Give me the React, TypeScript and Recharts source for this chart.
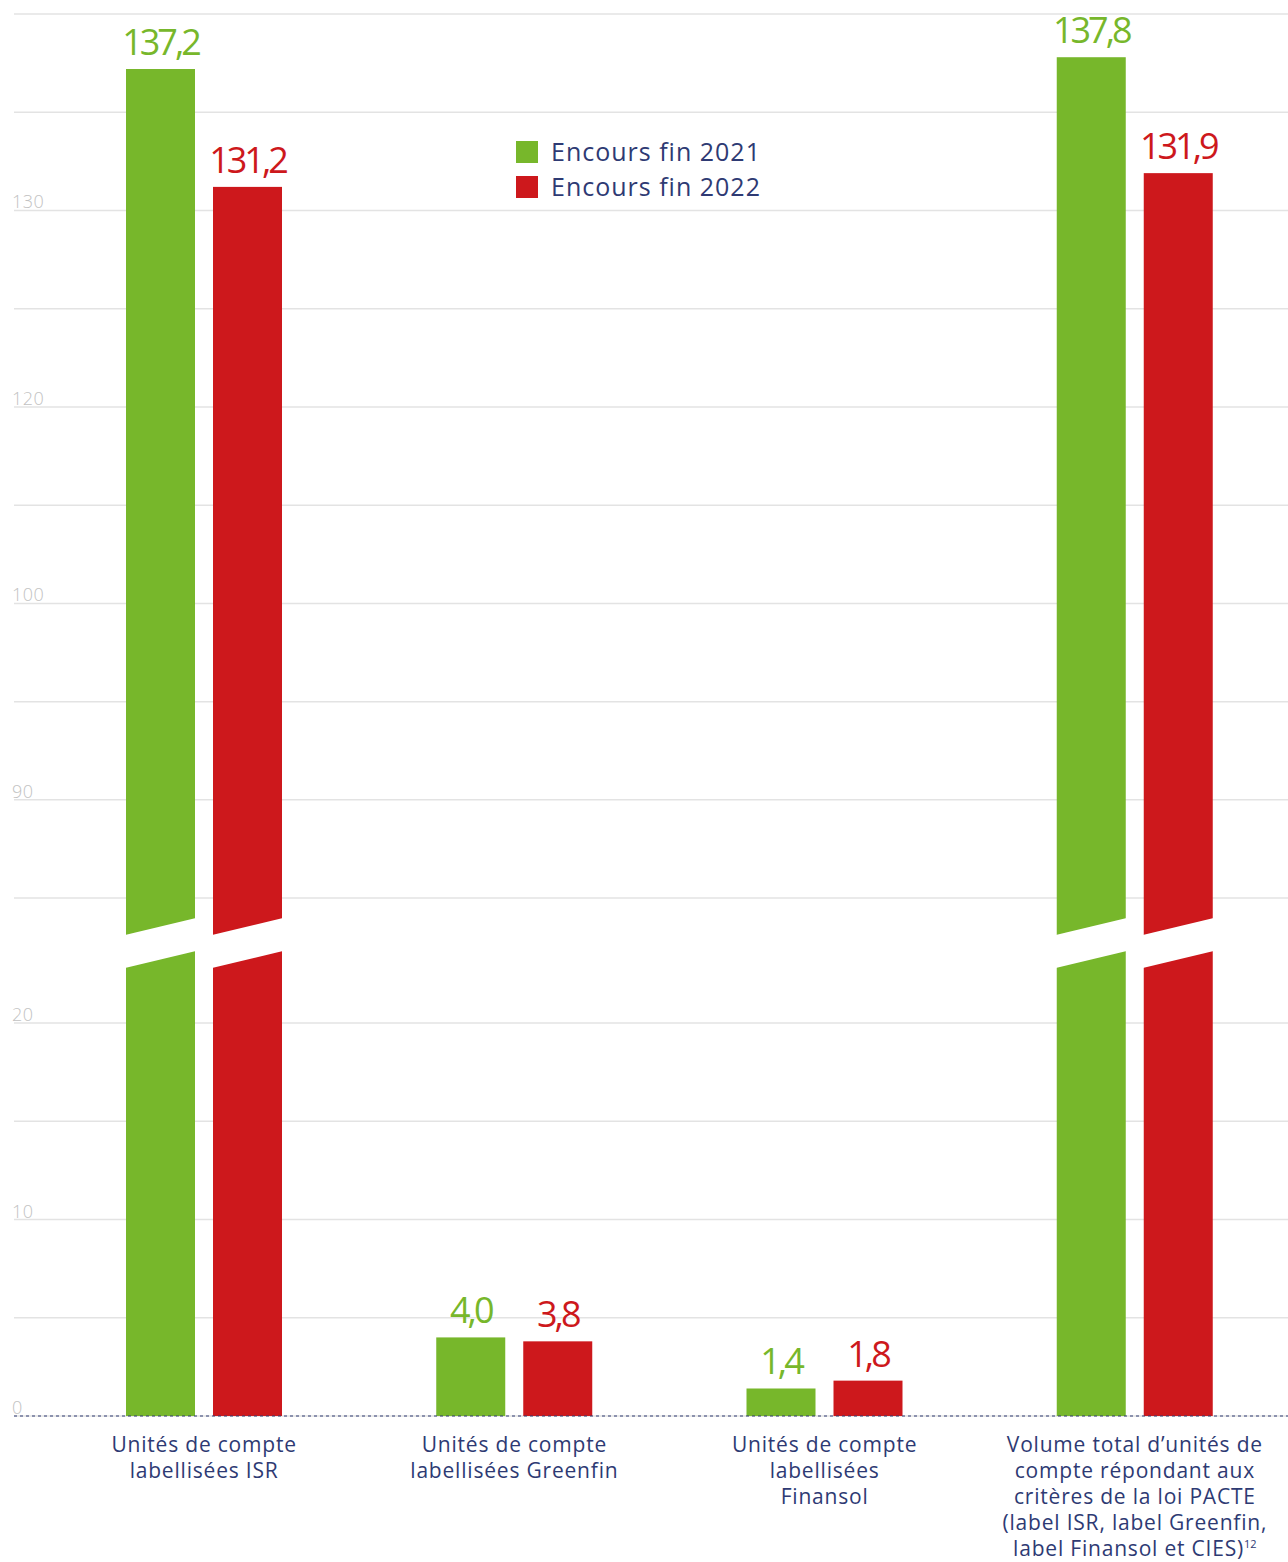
import React from 'react';
import { BarChart, Bar, XAxis, YAxis, CartesianGrid, LabelList, Legend, ReferenceLine } from 'recharts';

// ---- data ----
const CATEGORIES = [
  "Unités de compte\nlabellisées ISR",
  "Unités de compte\nlabellisées Greenfin",
  "Unités de compte\nlabellisées\nFinansol",
  "Volume total d’unités de\ncompte répondant aux\ncritères de la loi PACTE\n(label ISR, label Greenfin,\nlabel Finansol et CIES)",
];
const CATEGORY_NOTES = ["", "", "", "12"];
const ENCOURS_2021 = [137.2, 4.0, 1.4, 137.8];
const ENCOURS_2022 = [131.2, 3.8, 1.8, 131.9];
const SERIES_NAMES = ["Encours fin 2021", "Encours fin 2022"];
// gridline values (real units) and the labels printed next to them in the source
const Y_TICK_VALUES = [0, 5, 10, 15, 20, 95, 100, 105, 110, 115, 120, 125, 130, 135, 140];
const Y_TICK_LABELS = ["0", "", "10", "", "20", "", "90", "", "100", "", "120", "", "130", "", ""];

// ---- broken axis ----
const LOWER_MAX = 20;
const UPPER_OFFSET = 68.64;
const BREAK_AT = 24.07;
const toT = (v: number) => (v <= LOWER_MAX ? v : v - UPPER_OFFSET);
const fmt = (v: number) => v.toFixed(1).replace('.', ',');

const GREEN = '#77b72b';
const RED = '#cd181c';
const NAVY = '#2e3a73';
const GRID = '#e3e3e3';
const YTICK = '#c2c2c2';
const FONT = "'Open Sans', sans-serif";
const COLORS = [GREEN, RED];

const CHART_W = 1288;
const CHART_H = 1562;
const MARGIN = { top: 14, right: 0, bottom: 0, left: 14 };
const X_AXIS_H = 146;
const AXIS_Y = CHART_H - MARGIN.bottom - X_AXIS_H;

const data = CATEGORIES.map((c, i) => ({
  name: c,
  note: CATEGORY_NOTES[i],
  t2021: toT(ENCOURS_2021[i]),
  t2022: toT(ENCOURS_2022[i]),
  l2021: fmt(ENCOURS_2021[i]),
  l2022: fmt(ENCOURS_2022[i]),
}));

const Y_TICKS_T = Y_TICK_VALUES.map(toT);

const BrokenBar = (props: any) => {
  const { x, y, width, height, fill, tValue } = props;
  if (!height || height <= 0) return null;
  const base = y + height;
  const ppu = height / tValue;
  const broken = tValue > BREAK_AT + 2;
  const c = base - BREAK_AT * ppu;
  const slant = 8.5;
  const half = 16.5;
  return (
    <g>
      <rect x={x} y={y} width={width} height={height} fill={fill} />
      {broken && (
        <polygon
          fill="#ffffff"
          points={`${x - 1},${c + slant - half} ${x + width + 1},${c - slant - half} ${x + width + 1},${c - slant + half} ${x - 1},${c + slant + half}`}
        />
      )}
    </g>
  );
};

const makeYLabel = (label: string) => (p: any) => {
  const vb = p.viewBox || {};
  return (
    <text
      x={(vb.x ?? MARGIN.left) - 2}
      y={(vb.y ?? 0) - 2}
      fill={YTICK}
      fontSize={18}
      fontWeight={300}
      letterSpacing={0.5}
      fontFamily={FONT}
      textAnchor="start"
    >
      {label}
    </text>
  );
};

const EmptyTick = () => <g />;

const XTick = (props: any) => {
  const { x, payload, index } = props;
  const lines = String(payload.value).split('\n');
  const note = CATEGORY_NOTES[index] || '';
  return (
    <text x={x} textAnchor="middle" fill={NAVY} fontSize={21} letterSpacing={0.8} fontFamily={FONT}>
      {lines.map((l, i) => (
        <tspan key={i} x={x} y={AXIS_Y + 36 + i * 26}>
          {l}
          {i === lines.length - 1 && note ? (
            <tspan dy={-8} fontSize={11} letterSpacing={0}>{note}</tspan>
          ) : null}
        </tspan>
      ))}
    </text>
  );
};

const makeLabel = (color: string) => (p: any) => (
  <text
    x={p.x + p.width / 2}
    y={p.y - 14}
    textAnchor="middle"
    fill={color}
    fontSize={36}
    letterSpacing={-3}
    fontFamily={FONT}
  >
    {p.value}
  </text>
);

const LegendContent = () => (
  <div style={{ fontFamily: FONT }}>
    {SERIES_NAMES.map((n, i) => (
      <div key={n} style={{ display: 'flex', alignItems: 'center', height: 35 }}>
        <div style={{ width: 22, height: 22, background: COLORS[i], marginRight: 13 }} />
        <span style={{ color: NAVY, fontSize: 25, letterSpacing: 1, lineHeight: '35px' }}>{n}</span>
      </div>
    ))}
  </div>
);

export default function App() {
  return (
    <div style={{ position: 'absolute', left: 0, top: 0, width: CHART_W, height: CHART_H, overflow: 'hidden' }}>
      <BarChart
        width={CHART_W}
        height={CHART_H}
        data={data}
        margin={MARGIN}
        barSize={69}
        barGap={18}
      >
        <CartesianGrid vertical={false} stroke={GRID} strokeWidth={1.5} />
        <YAxis
          type="number"
          domain={[0, toT(140)]}
          ticks={Y_TICKS_T}
          interval={0}
          width={0}
          axisLine={false}
          tickLine={false}
          tick={<EmptyTick />}
        />
        <XAxis
          dataKey="name"
          height={X_AXIS_H}
          padding={{ left: 35, right: -2 }}
          axisLine={{ stroke: NAVY, strokeDasharray: '3 3', strokeWidth: 1 }}
          tickLine={false}
          interval={0}
          tick={<XTick />}
        />
        {Y_TICKS_T.map((t, i) =>
          Y_TICK_LABELS[i] ? (
            <ReferenceLine
              key={`yl-${i}`}
              y={t}
              stroke="none"
              strokeOpacity={0}
              ifOverflow="visible"
              label={makeYLabel(Y_TICK_LABELS[i])}
            />
          ) : null
        )}
        <Legend
          layout="vertical"
          align="center"
          verticalAlign="middle"
          wrapperStyle={{ left: 516, top: 134, width: 'auto', height: 'auto' }}
          content={<LegendContent />}
        />
        <Bar
          dataKey="t2021"
          name={SERIES_NAMES[0]}
          fill={GREEN}
          isAnimationActive={false}
          shape={(p: any) => <BrokenBar {...p} tValue={p.payload.t2021} />}
        >
          <LabelList dataKey="l2021" content={makeLabel(GREEN)} />
        </Bar>
        <Bar
          dataKey="t2022"
          name={SERIES_NAMES[1]}
          fill={RED}
          isAnimationActive={false}
          shape={(p: any) => <BrokenBar {...p} tValue={p.payload.t2022} />}
        >
          <LabelList dataKey="l2022" content={makeLabel(RED)} />
        </Bar>
      </BarChart>
    </div>
  );
}
